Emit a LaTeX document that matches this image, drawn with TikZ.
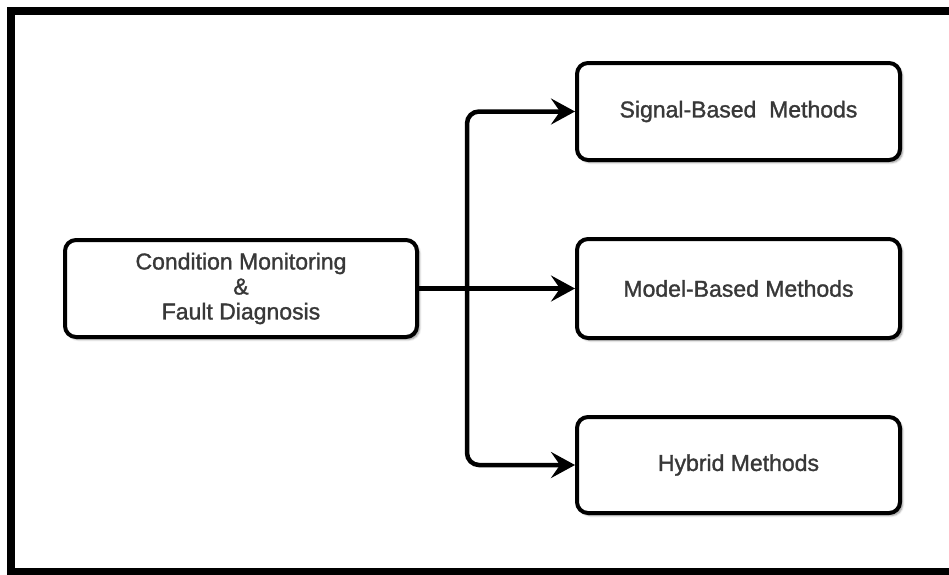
\documentclass[tikz,border=0pt]{standalone}
\usepackage{fontspec}
\setmainfont{Liberation Sans}
\newfontfamily\boxfont{Liberation Sans}[FakeBold=1.3]
\usetikzlibrary{arrows.meta,shadows.blur}

\tikzset{
  methodbox/.style={
    draw=black, line width=4pt, rounded corners=11pt, fill=white,
    minimum width=323pt, minimum height=97pt,
    font=\boxfont\fontsize{23}{25}\selectfont, text=black!78, align=center,
    blur shadow={shadow xshift=2.5pt, shadow yshift=-2.5pt,
                 shadow blur radius=2pt, shadow opacity=45}},
  link/.style={line width=4.5pt, -{Stealth[length=24pt,width=26pt,inset=9pt]}},
  elbowlink/.style={link, rounded corners=12pt},
  frameline/.style={line width=8pt, draw=black}
}

\begin{document}
\begin{tikzpicture}[x=1pt,y=-1pt]
  \useasboundingbox (0,0) rectangle (949,574);
  \begin{scope}
    \clip (0,0) rectangle (949,574);
    % outer frame, open towards the right edge
    \draw[frameline] (980,10.5) -- (11,10.5) -- (11,572) -- (980,572);
  \end{scope}

  % boxes
  \node[methodbox, minimum width=352pt] (cmfd) at (241,288.5)
    {Condition Monitoring\\\&\\Fault Diagnosis};
  \node[methodbox] (sig) at (738.5,111.5) {Signal-Based\ \ Methods};
  \node[methodbox, minimum height=99pt] (mod) at (738.5,288.5) {Model-Based Methods};
  \node[methodbox, minimum height=96pt] (hyb) at (738.5,465) {Hybrid Methods};

  % branching connectors
  \coordinate (split) at (467,288.5);
  \draw[link] (cmfd.east) -- (mod.west);
  \draw[elbowlink] (split) |- (sig.west);
  \draw[elbowlink] (split) |- (hyb.west);
\end{tikzpicture}
\end{document}
